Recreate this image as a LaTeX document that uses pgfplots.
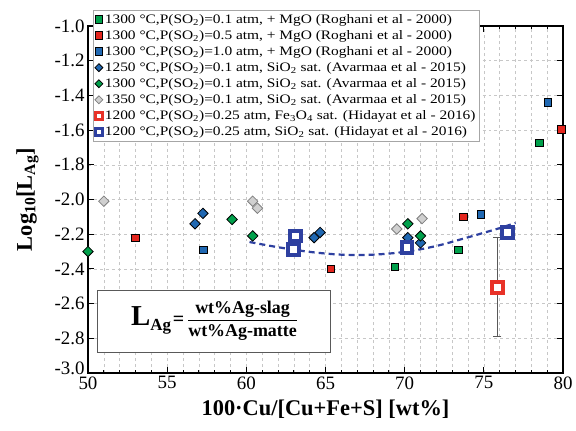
\documentclass[border=0pt]{standalone}
\usepackage{fontspec}
\setmainfont{Liberation Serif}
\newfontfamily\legfont[FakeStretch=1.19]{Liberation Serif}
\usepackage{pgfplots}
\pgfplotsset{compat=1.18}
\definecolor{cgreen}{RGB}{0,160,75}
\definecolor{cred}{RGB}{228,38,30}
\definecolor{cblue}{RGB}{32,104,178}
\definecolor{cgray}{RGB}{208,208,208}
\definecolor{hred}{RGB}{232,50,40}
\definecolor{hblue}{RGB}{46,64,160}
\begin{document}
\begin{tikzpicture}
\path (0,0) rectangle (576bp,431bp);
\begin{axis}[
  at={(88bp,58bp)}, anchor=south west,
  scale only axis, width=475bp, height=347bp,
  xmin=50, xmax=80, ymin=-3, ymax=-1,
  xtick={50,55,...,80}, minor x tick num=4,
  ytick={-3,-2.8,-2.6,-2.4,-2.2,-2,-1.8,-1.6,-1.4,-1.2,-1},
  yticklabels={\raisebox{9bp}{-3.0},-2.8,-2.6,-2.4,-2.2,-2.0,-1.8,-1.6,-1.4,-1.2,-1.0},
  /pgf/number format/assume math mode=true,
  grid=both,
  major grid style={dashed, black!22},
  minor grid style={dashed, black!22},
  tick align=inside, major tick length=6bp, minor tick length=3bp,
  tick style={black, line width=0.8bp},
  axis line style={line width=1.2bp},
  tick label style={font=\fontsize{19}{20}\selectfont},
  xlabel={\textbf{100·Cu/[Cu+Fe+S] [wt\%]}},
  ylabel={\textbf{Log\textsubscript{10}[L\textsubscript{Ag}]}},
  label style={font=\fontsize{22.5}{24}\selectfont},
  xlabel style={yshift=-4bp},
  ylabel style={yshift=9bp},
  legend style={at={(0.01,1.046)}, anchor=north west, draw=black!35,
    fill=white, font=\legfont\fontsize{13}{14}\selectfont, row sep=1.6bp,
    inner sep=2bp},
  legend cell align=left,
]
\addplot[hblue, dash pattern=on 6bp off 4bp, line width=2.2bp, smooth, forget plot]
  coordinates {(60.2,-2.245) (62,-2.275) (64,-2.302) (66,-2.318) (68,-2.318)
  (70,-2.302) (72,-2.268) (74,-2.218) (76,-2.165) (77,-2.135)};
% Roghani 2000
\addplot[only marks, mark=square*, mark size=3.7bp, mark options={fill=cgreen, draw=black, line width=0.8bp}]
  coordinates {(78.5,-1.675) (73.4,-2.29) (69.4,-2.39)};
\addlegendentry{1300 °C,P(SO\textsubscript{2})=0.1 atm, + MgO (Roghani  et al - 2000)}
\addplot[only marks, mark=square*, mark size=3.7bp, mark options={fill=cred, draw=black, line width=0.8bp}]
  coordinates {(53.0,-2.22) (65.35,-2.40) (73.7,-2.10) (79.9,-1.595)};
\addlegendentry{1300 °C,P(SO\textsubscript{2})=0.5 atm, + MgO (Roghani  et al - 2000)}
\addplot[only marks, mark=square*, mark size=3.7bp, mark options={fill=cblue, draw=black, line width=0.8bp}]
  coordinates {(57.3,-2.29) (74.8,-2.085) (79.05,-1.44)};
\addlegendentry{1300 °C,P(SO\textsubscript{2})=1.0 atm, + MgO (Roghani  et al - 2000)}
% Avarmaa 2015
\addplot[only marks, mark=square*, mark size=3.7bp, mark options={rotate=45, fill=cblue, draw=black, line width=0.8bp},
  legend image post style={mark size=2.8bp}]
  coordinates {(56.76,-2.14) (57.26,-2.08) (64.28,-2.22) (64.66,-2.19) (70.2,-2.22) (71.0,-2.25)};
\addlegendentry{1250 °C,P(SO\textsubscript{2})=0.1 atm, SiO\textsubscript{2} sat. (Avarmaa et al - 2015)}
\addplot[only marks, mark=square*, mark size=3.7bp, mark options={rotate=45, fill=cgreen, draw=black, line width=0.8bp},
  legend image post style={mark size=2.8bp}]
  coordinates {(50.0,-2.30) (59.1,-2.115) (60.4,-2.21) (70.2,-2.14) (71.0,-2.21)};
\addlegendentry{1300 °C,P(SO\textsubscript{2})=0.1 atm, SiO\textsubscript{2} sat. (Avarmaa et al - 2015)}
\addplot[only marks, mark=square*, mark size=3.7bp, mark options={rotate=45, fill=cgray, draw=black!50, line width=0.8bp},
  legend image post style={mark size=2.8bp}]
  coordinates {(51.0,-2.01) (60.4,-2.01) (60.7,-2.05) (69.5,-2.17) (71.1,-2.11)};
\addlegendentry{1350 °C,P(SO\textsubscript{2})=0.1 atm, SiO\textsubscript{2} sat. (Avarmaa et al - 2015)}
% Hidayat 2016
\addplot[only marks, hred, mark=square*, mark size=5.4bp,
  mark options={fill=white, draw=hred, line width=4bp, rounded corners=1.2bp},
  legend image post style={mark size=3.4bp, mark options={fill=white, draw=hred, line width=2.8bp, rounded corners=1bp}},
  error bars/.cd, y dir=both, y explicit, error bar style={black!65, line width=0.8bp},
  error mark options={rotate=90, black!65, mark size=4bp, line width=0.8bp}]
  coordinates {(75.85,-2.505) +- (0,0.285)};
\addlegendentry{1200 °C,P(SO\textsubscript{2})=0.25 atm, Fe\textsubscript{3}O\textsubscript{4} sat. (Hidayat et al - 2016)}
\addplot[only marks, hblue, mark=square*, mark size=5.4bp,
  mark options={fill=white, draw=hblue, line width=4bp, rounded corners=1.2bp},
  legend image post style={mark size=3.4bp, mark options={fill=white, draw=hblue, line width=2.8bp, rounded corners=1bp}},
  error bars/.cd, y dir=both, y explicit, error bar style={black, line width=0.8bp},
  error mark options={rotate=90, black, mark size=2.5bp, line width=0.8bp}]
  coordinates {(63.1,-2.21) +- (0,0.025) (63.0,-2.29) +- (0,0.025) (70.15,-2.275) +- (0,0.025) (76.5,-2.19) +- (0,0.02)};
\addlegendentry{1200 °C,P(SO\textsubscript{2})=0.25 atm, SiO\textsubscript{2} sat. (Hidayat et al - 2016)}
\node[draw=black!65, line width=1bp, fill=white, minimum width=233bp, minimum height=62bp,
  anchor=north west, inner sep=0pt] at (axis cs:50.57,-2.52) {\bfseries
  {\fontsize{29}{29}\selectfont L}\raisebox{-5bp}{\fontsize{17}{17}\selectfont Ag}\,{\fontsize{20}{20}\selectfont =}\,
  {\fontsize{18}{18}\selectfont\begin{tabular}{@{}c@{}}wt\%Ag-slag\\[1bp]\hline\rule{0pt}{16bp}wt\%Ag-matte\end{tabular}}};
\end{axis}
\end{tikzpicture}
\end{document}
